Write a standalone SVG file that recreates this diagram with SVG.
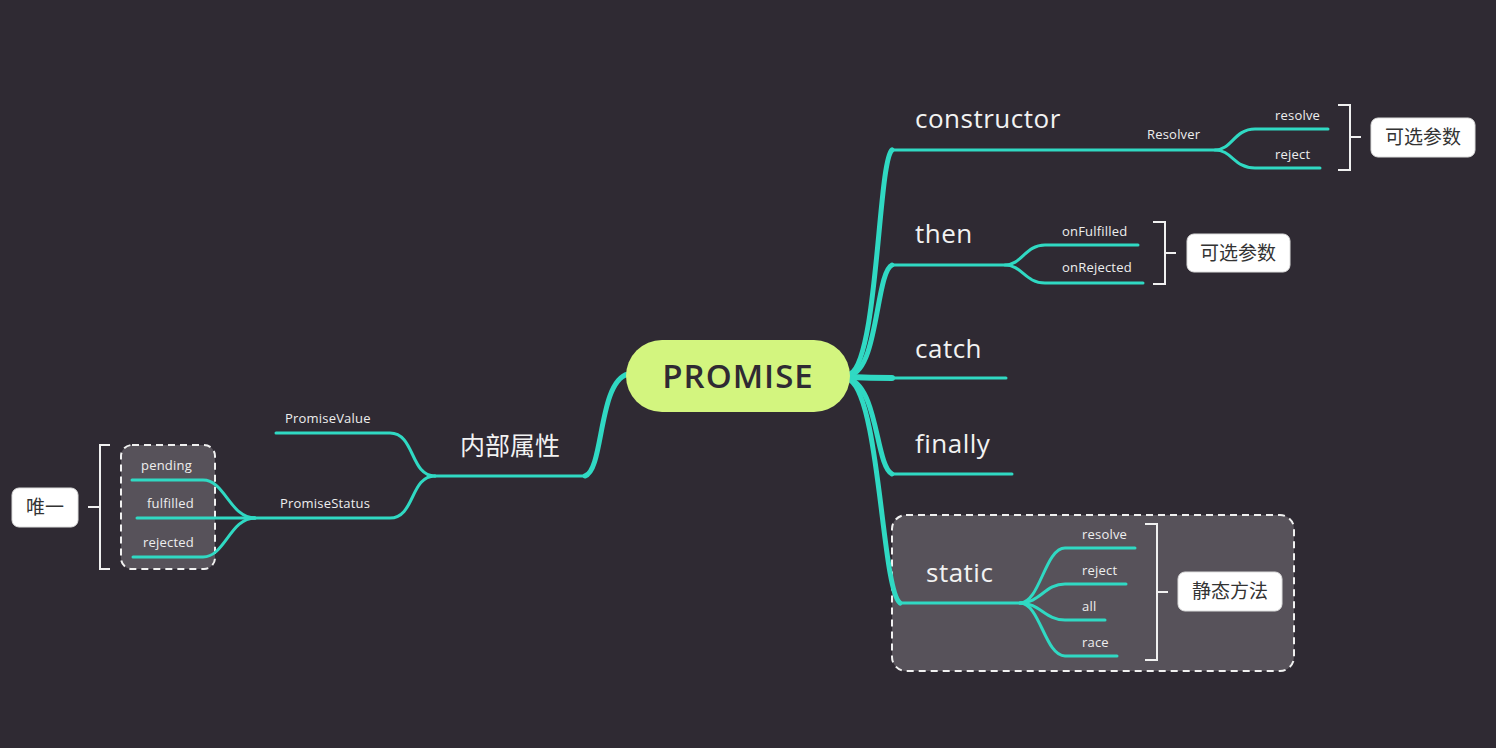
<svg xmlns="http://www.w3.org/2000/svg" width="1496" height="748" viewBox="0 0 1496 748">
<style>
.l{fill:none;stroke:#30d9c3;stroke-width:3;stroke-linecap:round}
.t{fill:none;stroke:#30d9c3;stroke-linecap:round}
.big{font-family:"Open Sans","Noto Sans",sans-serif;font-size:26px;letter-spacing:0.5px;fill:#f2f2f2}
.sm{font-family:"Open Sans","Noto Sans",sans-serif;font-size:13px;letter-spacing:0.2px;fill:#eeeeee}
.cjk{font-family:"Open Sans","Noto Sans CJK SC",sans-serif;font-size:19px;fill:#333}
.box{fill:#ffffff;stroke:#dddddd;stroke-width:1}
.br{fill:none;stroke:#f0f0f0;stroke-width:2}
.dash{fill:#57525a;stroke:#f0f0f0;stroke-width:2;stroke-dasharray:7 5}
</style>
<rect width="1496" height="748" fill="#2f2a33"/>
<g id="static-frame"><rect class="dash" x="892" y="515" width="402" height="156" rx="14"/></g>
<g id="state-frame"><rect class="dash" x="121" y="445" width="94" height="124" rx="11"/></g>
<g id="connectors">
<path class="t" stroke-width="5" d="M850 374 C 878 360, 878 162, 892 150"/>
<path class="l" d="M892 150 L1215 150 C1232 150,1234 129,1255 129 L1328 129"/>
<path class="l" d="M1215 150 C1232 150,1234 168,1255 168 L1320 168"/>
<path class="t" stroke-width="5" d="M850 375 C 878 370, 876 272, 892 265"/>
<path class="l" d="M892 265 L1005 265 C1022 265,1025 245,1045 245 L1138 245"/>
<path class="l" d="M1005 265 C1022 265,1025 283,1045 283 L1143 283"/>
<path class="t" stroke-width="6" d="M850 377 C 870 378, 875 378, 892 378"/>
<path class="l" d="M892 378 L1006 378"/>
<path class="t" stroke-width="5" d="M850 379 C 878 390, 876 466, 892 474"/>
<path class="l" d="M892 474 L1012 474"/>
<path class="t" stroke-width="5" d="M850 380 C 880 400, 882 590, 900 603"/>
<path class="l" d="M900 603 L1020 603 C1040 603,1045 548,1065 548 L1135 548"/>
<path class="l" d="M1020 603 C1040 603,1045 584,1065 584 L1126 584"/>
<path class="l" d="M1020 603 C1040 603,1045 620,1065 620 L1105 620"/>
<path class="l" d="M1020 603 C1040 603,1045 656,1065 656 L1117 656"/>
<path class="t" stroke-width="5" d="M628 374 C 598 382, 604 470, 585 476"/>
<path class="l" d="M585 476 L435 476"/>
<path class="l" d="M435 476 C410 476,415 433,390 433 L276 433"/>
<path class="l" d="M435 476 C410 476,415 518,390 518 L250 518"/>
<path class="l" d="M255 518 C230 518,225 480,203 480 L132 480"/>
<path class="l" d="M255 518 L137 518"/>
<path class="l" d="M255 518 C230 518,225 557,203 557 L133 557"/>
</g>
<g id="promise">
<rect x="626" y="340" width="224" height="72" rx="36" fill="#d3f57f"/>
<text x="738" y="388" text-anchor="middle" font-family="'Open Sans','Noto Sans',sans-serif" font-weight="600" font-size="33" letter-spacing="1" fill="#2f2a33">PROMISE</text>
</g>
<g id="constructor">
<text class="big" x="915" y="128">constructor</text>
<text class="sm" x="1147" y="139">Resolver</text>
<text class="sm" x="1275" y="120">resolve</text>
<text class="sm" x="1275" y="159">reject</text>
<path class="br" d="M1338 105 H1350 V170 H1338 M1350 137 H1361"/>
<rect class="box" x="1371" y="118" width="104" height="39" rx="7"/>
<text class="cjk" x="1423" y="144" text-anchor="middle">可选参数</text>
</g>
<g id="then">
<text class="big" x="915" y="243">then</text>
<text class="sm" x="1062" y="236">onFulfilled</text>
<text class="sm" x="1062" y="272">onRejected</text>
<path class="br" d="M1153 222 H1165 V284 H1153 M1165 253 H1176"/>
<rect class="box" x="1187" y="234" width="103" height="38" rx="7"/>
<text class="cjk" x="1238" y="260" text-anchor="middle">可选参数</text>
</g>
<g id="catch"><text class="big" x="915" y="358">catch</text></g>
<g id="finally"><text class="big" x="915" y="453">finally</text></g>
<g id="static">
<text class="big" x="926" y="582">static</text>
<text class="sm" x="1082" y="539">resolve</text>
<text class="sm" x="1082" y="575">reject</text>
<text class="sm" x="1082" y="611">all</text>
<text class="sm" x="1082" y="647">race</text>
<path class="br" d="M1145 524 H1157 V660 H1145 M1157 592 H1168"/>
<rect class="box" x="1178" y="572" width="104" height="39" rx="7"/>
<text class="cjk" x="1230" y="598" text-anchor="middle">静态方法</text>
</g>
<g id="internal">
<text x="510" y="455" text-anchor="middle" font-family="'Open Sans','Noto Sans CJK SC',sans-serif" font-size="25" fill="#f2f2f2">内部属性</text>
<text class="sm" x="285" y="423">PromiseValue</text>
<text class="sm" x="280" y="508">PromiseStatus</text>
<text class="sm" x="141" y="470">pending</text>
<text class="sm" x="147" y="508">fulfilled</text>
<text class="sm" x="143" y="547">rejected</text>
<path class="br" d="M110 445 H100 V569 H110 M100 507 H88"/>
<rect class="box" x="12" y="488" width="66" height="39" rx="7"/>
<text class="cjk" x="45" y="514" text-anchor="middle">唯一</text>
</g>
</svg>
